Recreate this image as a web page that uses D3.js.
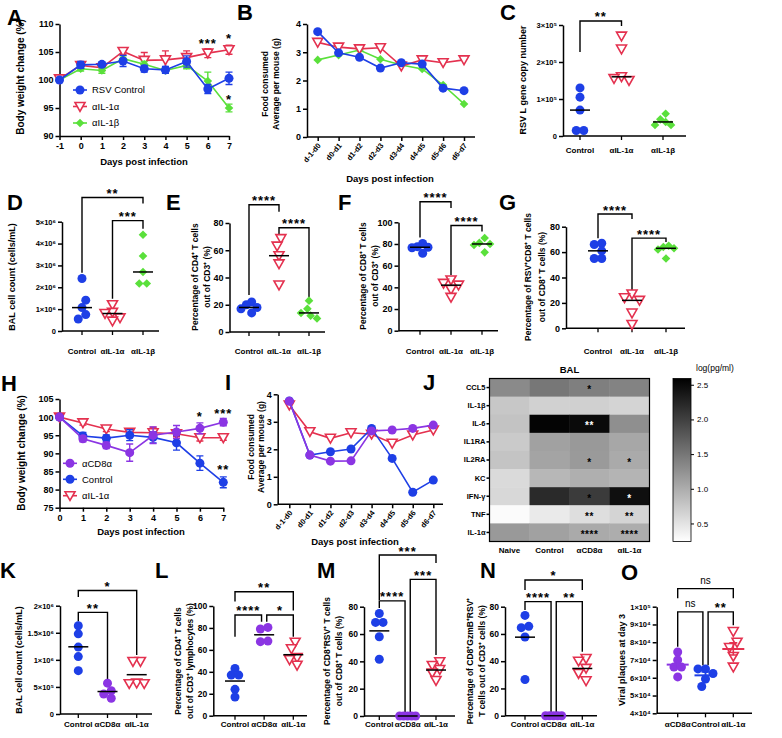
<!DOCTYPE html>
<html><head><meta charset="utf-8"><title>Figure</title>
<script src="https://cdn.jsdelivr.net/npm/d3@7/dist/d3.min.js"></script>
<style>html,body{margin:0;padding:0;background:#fff;}svg{display:block;}</style>
</head><body>
<script>
// ================= DATA =================
// Panel A – body weight (%)
const daysA = [-1,0,1,2,3,4,5,6,7];
const A_ctrl = [100,102.7,102.8,103.4,102.0,101.8,103.3,98.4,100.3];
const A_ctrlErr = [0.3,0.6,0.4,1.0,0.6,0.6,1.0,0.8,1.1];
const A_il1a = [100.2,102.6,102.2,105.1,103.5,103.6,104.0,104.8,105.4];
const A_il1aErr = [0.3,0.5,0.5,0.5,1.4,1.6,1.2,0.8,0.8];
const A_il1b = [100.0,102.0,101.7,103.8,102.8,101.7,102.6,99.8,95.0];
const A_il1bErr = [0.3,0.4,0.5,0.5,0.5,0.5,0.6,1.6,0.7];
const A_sig = [{day:6,v:107.1,t:'***'},{day:7,v:108,t:'*'},{day:7,v:97,t:'*'}];
const A_legend = ['RSV Control','αIL-1α','αIL-1β'];

// Panel B – food consumed
const periods = ['d-1-d0','d0-d1','d1-d2','d2-d3','d3-d4','d4-d5','d5-d6','d6-d7'];
const B_ctrl = [3.73,2.98,2.82,2.44,2.63,2.58,1.73,1.64];
const B_il1a = [3.35,3.18,3.12,3.16,2.51,2.73,2.63,2.73];
const B_il1b = [2.73,2.90,3.08,2.75,2.55,2.41,1.84,1.17];
const foodTicks = [0,1,2,3,4];

// Groups
const grpIL = ['Control','αIL-1α','αIL-1β'];
const grpCD8 = ['Control','αCD8α','αIL-1α'];
const grpO = ['αCD8α','Control','αIL-1α'];

// Panel C – RSV L gene copy number
const C_ctrl = [1.3e5,1.05e5,0.7e5,0.15e5,0.15e5];
const C_il1a = [2.7e5,2.35e5,1.6e5,1.55e5,1.5e5];
const C_il1b = [0.6e5,0.45e5,0.38e5,0.3e5,0.3e5];
const C_ticks = [0,1e5,2e5,3e5];
const C_sig = [{a:0,b:1,level:3.11e5,tipA:2.27e5,tipB:2.97e5,t:'**'}];

// Panel D – BAL cell count
const D_ctrl = [2.4e6,1.41e6,1.07e6,0.75e6,0.55e6];
const D_il1a = [1.2e6,0.85e6,0.8e6,0.6e6,0.45e6];
const D_il1b = [4.4e6,3.43e6,2.7e6,2.17e6,2.17e6];
const D_ticks = [0,1e6,2e6,3e6,4e6,5e6];
const D_sig = [{a:0,b:2,level:6.11e6,tipA:2.66e6,tipB:5.83e6,t:'**'},{a:1,b:2,level:5.05e6,tipA:1.47e6,tipB:4.68e6,t:'***'}];

// Panel E – CD4 %
const E_ctrl = [22,20,18,17,14];
const E_il1a = [68.5,63,56,50,34.5];
const E_il1b = [23,17,14,12,10];
const E_ticks = [0,20,40,60,80];
const E_sig = [{a:0,b:1,level:93.4,tipA:27.2,tipB:88.2,t:'****'},{a:1,b:2,level:76.5,tipA:69.9,tipB:25.7,t:'****'}];

// Panel F – CD8 %
const F_ctrl = [80.5,77.5,77,76.5,71.5];
const F_il1a = [46.8,43.7,42,38,30.7];
const F_il1b = [85.5,81,80,79,72.3];
const F_ticks = [0,20,40,60,80,100];
const F_sig = [{a:0,b:1,level:119,tipA:85.9,tipB:113.3,t:'****'},{a:1,b:2,level:97,tipA:51.4,tipB:91.4,t:'****'}];

// Panel G – RSV+CD8+ %
const G_ctrl = [67,66,61,55,55];
const G_il1a = [27,24,22,12,3];
const G_il1b = [65,64,63,62,55];
const G_ticks = [0,20,40,60,80];
const G_sig = [{a:0,b:1,level:90,tipA:71,tipB:86,t:'****'},{a:1,b:2,level:71,tipA:30,tipB:68,t:'****'}];

// Panel H – body weight
const daysH = [0,1,2,3,4,5,6,7];
const H_cd8 = [100,94.0,92.2,90.2,95.0,95.9,96.9,98.6];
const H_cd8Err = [0,0.8,0.9,2.4,2.3,1.8,1.5,1.0];
const H_ctrl = [100,94.8,94.2,95.0,94.4,92.9,87.3,82.0];
const H_ctrlErr = [0,1.0,0.9,1.5,1.5,2.0,2.0,1.5];
const H_il1a = [100,98.4,96.7,95.8,95.7,95.4,94.3,94.3];
const H_il1aErr = [0,0.6,0.7,1.0,1.5,0.8,0.9,0.7];
const H_sig = [{day:6,v:101.05,t:'*'},{day:7,v:101.7,t:'***'},{day:7,v:86.3,t:'**'}];
const H_legend = ['αCD8α','Control','αIL-1α'];

// Panel I – food consumed
const I_cd8 = [3.75,1.79,1.57,1.58,2.67,2.70,2.76,2.88];
const I_ctrl = [3.76,1.79,1.91,2.01,2.76,1.67,0.44,0.88];
const I_il1a = [3.61,2.64,2.40,2.60,2.55,2.22,2.52,2.70];

// Panel J – BAL cytokine heatmap, log(pg/ml)
const cytokines = ['CCL5','IL-1β','IL-6','IL1RA','IL2RA','KC','IFN-γ','TNF','IL-1α'];
const jGroups = ['Naive','Control','αCD8α','αIL-1α'];
const J_vals = [
  [1.32,1.49,1.42,1.38],
  [0.76,0.66,0.67,0.64],
  [0.79,2.55,2.50,1.27],
  [0.73,1.11,1.18,1.05],
  [0.78,1.08,1.17,1.02],
  [0.58,0.90,0.98,0.93],
  [0.60,2.20,2.05,2.45],
  [0.28,0.43,0.54,0.64],
  [1.18,1.11,1.02,1.00]
];
const J_sig = [
  ['','','*',''],['','','',''],['','','**',''],['','','',''],['','','*','*'],
  ['','','',''],['','','*','*'],['','','**','**'],['','','****','****']
];
const J_range = [0.24,2.59];
const J_ticks = [0.5,1.0,1.5,2.0,2.5];

// Panel K – BAL cell count
const K_ctrl = [1.63e6,1.48e6,1.235e6,1.06e6,0.8e6];
const K_cd8 = [0.57e6,0.43e6,0.37e6,0.29e6];
const K_il1a = [0.97e6,0.97e6,0.57e6,0.56e6,0.56e6];
const K_ticks = [0,5e5,1e6,1.5e6,2e6];
const K_sig = [{a:0,b:2,level:2.28e6,tipA:2.16e6,tipB:1.09e6,t:'*'},{a:0,b:1,level:1.876e6,tipA:1.71e6,tipB:0.63e6,t:'**'}];

// Panel L – CD4 %
const L_ctrl = [43,37,37,24,17];
const L_cd8 = [79,80.5,67.5,68];
const L_il1a = [67,61,53,51,46];
const L_ticks = [0,20,40,60,80,100];
const L_sig = [{a:0,b:2,level:113,tipA:104,tipB:96,t:'**'},{a:0,b:1,level:91.8,tipA:72,tipB:85.7,t:'****'},{a:1,b:2,level:91.8,tipA:85.7,tipB:72,t:'*'}];

// Panel M – CD8+RSV+ %
const M_ctrl = [75,68.5,68.5,58,41.5];
const M_cd8 = [0,0,0,0,0];
const M_il1a = [39.7,37,34,31.5,26];
const M_ticks = [0,20,40,60,80];
const M_sig = [{a:0,b:2,level:117.8,tipA:84.9,tipB:112,t:'***'},{a:1,b:2,level:100,tipA:2.2,tipB:44.6,t:'***'},{a:0,b:1,level:84.3,tipA:79,tipB:2.2,t:'****'}];

// Panel N – CD8+GzmB+RSV+ %
const N_ctrl = [73.6,65.6,64.6,57.8,26.6];
const N_cd8 = [0,0,0,0,0];
const N_il1a = [42,40,34.7,31,25.6];
const N_ticks = [0,20,40,60,80];
const N_sig = [{a:0,b:2,level:99.6,tipA:92.3,tipB:92.3,t:'*'},{a:0,b:1,level:83.7,tipA:77.6,tipB:2,t:'****'},{a:1,b:2,level:83.7,tipA:2,tipB:47,t:'**'}];

// Panel O – viral plaques
const O_cd8 = [74500,70000,66000,66000,60500];
const O_ctrl = [65000,65000,62400,59300,55100];
const O_il1a = [86000,80000,77000,72000,66000];
const O_ticks = [40000,50000,60000,70000,80000,90000,100000];
const O_sig = [{a:0,b:2,level:110200,tipA:104800,tipB:104800,t:'ns'},{a:0,b:1,level:97100,tipA:77400,tipB:67100,t:'ns'},{a:1,b:2,level:97100,tipA:67100,tipB:89600,t:'**'}];

// ================= DRAWING =================
const FONT = "'Liberation Sans', Arial, Helvetica, sans-serif";
const BLUE = '#1e3fe6', RED = '#e4314f', GREEN = '#5ae03b', PURPLE = '#8b35e3';

const svg = d3.select('body').append('svg').attr('width',782).attr('height',738)
  .attr('font-family',FONT);

function txt(x,y,t,o={}){
  return svg.append('text').attr('x',x).attr('y',y).attr('font-size',o.fs||9)
    .attr('font-weight',o.w||'bold').attr('text-anchor',o.a||'start')
    .attr('fill',o.c||'#000').attr('letter-spacing',o.ls||null).text(t);
}
function vlabel(lines, xs, cy, fs){
  lines.forEach((t,i)=> svg.append('text').attr('transform',`translate(${xs[i]},${cy}) rotate(-90)`)
    .attr('text-anchor','middle').attr('font-size',fs).attr('font-weight','bold').text(t));
}
function styleAxis(a, fs, w){
  a.attr('font-family',FONT);
  a.select('.domain').attr('stroke','#000').attr('stroke-width',1.5);
  a.selectAll('.tick line').attr('stroke','#000').attr('stroke-width',1.5);
  a.selectAll('.tick text').attr('fill','#000').attr('font-size',fs).attr('font-weight',w||'bold');
}
function marker(g, kind, x, y, color){
  if(kind==='circle') return g.append('circle').attr('cx',x).attr('cy',y).attr('r',4.5).attr('fill',color);
  if(kind==='tri') return g.append('path').attr('d',`M${x-5},${y-4}L${x+5},${y-4}L${x},${y+4.8}Z`)
    .attr('fill','#fff').attr('stroke',color).attr('stroke-width',1.6);
  return g.append('path').attr('d',`M${x},${y-4.3}L${x+4.3},${y}L${x},${y+4.3}L${x-4.3},${y}Z`).attr('fill',color);
}
function seriesDraw(g, xs, ys, errs, x, y, kind, color){
  const line = d3.line().x((d,i)=>x(xs[i])).y(d=>y(d));
  g.append('path').datum(ys).attr('d',line).attr('fill','none').attr('stroke',color).attr('stroke-width',1.6);
  if(errs) ys.forEach((v,i)=>{
    const e = errs[i]; if(!e) return; const xx = x(xs[i]);
    g.append('path').attr('d',`M${xx},${y(v-e)}V${y(v+e)}M${xx-3.5},${y(v-e)}H${xx+3.5}M${xx-3.5},${y(v+e)}H${xx+3.5}`)
      .attr('stroke',color).attr('stroke-width',1.4).attr('fill','none');
  });
  ys.forEach((v,i)=> marker(g, kind, x(xs[i]), y(v), color));
}
function legend(g, items, x0, ys){
  items.forEach((it,i)=>{
    g.append('line').attr('x1',x0-7).attr('x2',x0+7).attr('y1',ys[i]).attr('y2',ys[i]).attr('stroke',it.color).attr('stroke-width',1.6);
    marker(g, it.kind, x0, ys[i], it.color);
    txt(x0+12, ys[i]+3.4, it.label, {fs:9.5, w:'normal'});
  });
}
function swarm(ys, dc, maxSpread){
  const n = ys.length, order = d3.range(n).sort((a,b)=>ys[a]-ys[b]);
  const off = new Array(n).fill(0), placed = [];
  const cands = [0]; for(let k=1;k<14;k++){ cands.push(-k*dc*0.5, k*dc*0.5); }
  for(const i of order){
    for(const o of cands){
      if(placed.every(j => (o-off[j])**2 + (ys[i]-ys[j])**2 >= dc*dc)){ off[i]=o; break; }
    }
    placed.push(i);
  }
  const clusters = []; let cur = [order[0]];
  for(let k=1;k<n;k++){
    if(Math.abs(ys[order[k]]-ys[order[k-1]]) < dc) cur.push(order[k]);
    else { clusters.push(cur); cur=[order[k]]; }
  }
  clusters.push(cur);
  clusters.forEach(cl=>{
    const lo = d3.min(cl,i=>off[i]), hi = d3.max(cl,i=>off[i]);
    const mid = (lo+hi)/2, sc = (hi-lo) > maxSpread ? maxSpread/(hi-lo) : 1;
    cl.forEach(i=> off[i] = (off[i]-mid)*sc);
  });
  return off;
}
function brackets(g, sig, x, y, cats){
  sig.forEach(b=>{ b.sa=0; b.sb=0; });
  sig.forEach(b1=> sig.forEach(b2=>{
    if(b1===b2 || b1.b!==b2.a) return;
    const r1=[Math.min(b1.level,b1.tipB),Math.max(b1.level,b1.tipB)];
    const r2=[Math.min(b2.level,b2.tipA),Math.max(b2.level,b2.tipA)];
    if(r1[0] < r2[1] && r2[0] < r1[1]){ b1.sb=-2.6; b2.sa=2.6; }
  }));
  sig.forEach(b=>{
    const xa = x(cats[b.a])+b.sa, xb = x(cats[b.b])+b.sb, yl = y(b.level);
    g.append('path').attr('d',`M${xa},${y(b.tipA)}V${yl}H${xb}V${y(b.tipB)}`)
      .attr('fill','none').attr('stroke','#000').attr('stroke-width',1.4);
    if(b.t==='ns') txt((xa+xb)/2, yl-4.5, b.t, {fs:10, a:'middle', w:'normal'});
    else txt((xa+xb)/2, yl+0.5, b.t, {fs:13, a:'middle', ls:1});
  });
}
function scatter(c){
  const y = d3.scaleLinear().domain(c.dom).range(c.yr);
  const x = d3.scalePoint().domain(c.cats).range(c.xr);
  const g = svg.append('g');
  const ya = g.append('g').attr('transform',`translate(${c.ax},0)`)
    .call(d3.axisLeft(y).tickValues(c.ticks).tickFormat(c.fmt).tickSize(4).tickSizeOuter(0).tickPadding(2));
  styleAxis(ya, c.tfs||9);
  g.append('line').attr('x1',c.ax).attr('x2',c.xend).attr('y1',c.yr[0]).attr('y2',c.yr[0])
    .attr('stroke','#000').attr('stroke-width',1.5);
  c.cats.forEach(k=>{
    g.append('line').attr('x1',x(k)).attr('x2',x(k)).attr('y1',c.yr[0]).attr('y2',c.yr[0]+4)
      .attr('stroke','#000').attr('stroke-width',1.3);
    txt(x(k), c.labY, k, {fs:8, a:'middle'});
  });
  brackets(g, c.sig, x, y, c.cats);
  c.vals.forEach((vs,i)=>{
    const cx = x(c.cats[i]);
    const offs = swarm(vs.map(v=>y(v)), 7.5, 16);
    vs.forEach((v,j)=> marker(g, c.kinds[i], cx+offs[j], y(v), c.colors[i]));
    const m = c.stat(vs);
    if(c.sem){
      const se = d3.deviation(vs)/Math.sqrt(vs.length), col = c.colors[i];
      g.append('line').attr('x1',cx-11).attr('x2',cx+11).attr('y1',y(m)).attr('y2',y(m)).attr('stroke',col).attr('stroke-width',2);
      g.append('path').attr('d',`M${cx},${y(m-se)}V${y(m+se)}M${cx-4},${y(m-se)}H${cx+4}M${cx-4},${y(m+se)}H${cx+4}`)
        .attr('stroke',col).attr('stroke-width',1.6).attr('fill','none');
    } else {
      g.append('line').attr('x1',cx-10).attr('x2',cx+10).attr('y1',y(m)).attr('y2',y(m)).attr('stroke','#000').attr('stroke-width',1.5);
    }
  });
}
const sup = {'0':'⁰','1':'¹','2':'²','3':'³','4':'⁴','5':'⁵','6':'⁶','7':'⁷','8':'⁸','9':'⁹'};
function sci(mant, exp){ return `${mant}×10${String(exp).split('').map(ch=>sup[ch]).join('')}`; }
function foodPanel(cfg){
  const g = svg.append('g');
  const x = d3.scalePoint().domain(periods).range(cfg.xr);
  const y = d3.scaleLinear().domain([0,4]).range(cfg.yr);
  styleAxis(g.append('g').attr('transform',`translate(${cfg.ax},0)`)
    .call(d3.axisLeft(y).tickValues(foodTicks).tickFormat(d=>String(d)).tickSize(4).tickSizeOuter(0).tickPadding(2)), 9);
  const xa = g.append('g').attr('transform',`translate(0,${cfg.yr[0]})`).call(d3.axisBottom(x).tickSize(4).tickSizeOuter(0));
  xa.select('.domain').remove();
  styleAxis(xa, 7.5);
  xa.selectAll('.tick text').attr('text-anchor','end').attr('x',0).attr('y',0).attr('dy','0.35em')
    .attr('transform','translate(1,7) rotate(-50)');
  g.append('line').attr('x1',cfg.ax).attr('x2',cfg.xend).attr('y1',cfg.yr[0]).attr('y2',cfg.yr[0]).attr('stroke','#000').attr('stroke-width',1.5);
  cfg.series.forEach(s=> seriesDraw(g, periods, s.vals, null, x, y, s.kind, s.color));
}

// ---------- Panel letters ----------
[['A',7,25],['B',237,20],['C',500,20],['D',7,210],['E',166,210],['F',338,210],['G',499,210],
 ['H',1,391],['I',225,390],['J',423,390],['K',0,578],['L',155,578],['M',317,578],['N',480,578],['O',621,580]]
 .forEach(([t,x,y])=> txt(x,y,t,{fs:22}));

// ---------- Panel A ----------
{
  const g = svg.append('g');
  const x = d3.scaleLinear().domain([-1,7]).range([59.5,229]);
  const y = d3.scaleLinear().domain([90,110]).range([136,24]);
  styleAxis(g.append('g').attr('transform','translate(59.5,0)')
    .call(d3.axisLeft(y).tickValues([90,95,100,105,110]).tickFormat(d=>String(d)).tickSize(4).tickSizeOuter(0).tickPadding(2)), 9);
  styleAxis(g.append('g').attr('transform','translate(0,136)')
    .call(d3.axisBottom(x).tickValues(daysA).tickFormat(d=>String(d)).tickSize(4).tickSizeOuter(0).tickPadding(3)), 9);
  seriesDraw(g, daysA, A_il1a, A_il1aErr, x, y, 'tri', RED);
  seriesDraw(g, daysA, A_il1b, A_il1bErr, x, y, 'diamond', GREEN);
  seriesDraw(g, daysA, A_ctrl, A_ctrlErr, x, y, 'circle', BLUE);
  A_sig.forEach(s=> txt(x(s.day), y(s.v)+7.5, s.t, {fs:13, a:'middle', ls:1}));
  legend(g, [{label:A_legend[0],kind:'circle',color:BLUE},{label:A_legend[1],kind:'tri',color:RED},{label:A_legend[2],kind:'diamond',color:GREEN}], 80, [90,106.5,123]);
  vlabel(['Body weight change (%)'], [23.5], 77, 10);
  txt(144, 165, 'Days post infection', {fs:9.5, a:'middle'});
}

// ---------- Panel B ----------
foodPanel({ax:307, xend:475, xr:[317.7,464], yr:[137,24], series:[
  {vals:B_il1b, kind:'diamond', color:GREEN},{vals:B_il1a, kind:'tri', color:RED},{vals:B_ctrl, kind:'circle', color:BLUE}]});
vlabel(['Food consumed','Average per mouse (g)'], [268,278.5], 84, 8.5);
txt(390, 182, 'Days post infection', {fs:9.5, a:'middle'});

// ---------- Scatter panels C-G ----------
const fmtPlain = d=>String(d);
scatter({ax:563, xend:686, xr:[580,663], yr:[136,25], dom:[0,3e5], ticks:C_ticks,
  fmt:d=>d===0?'0':sci(d/1e5,5), tfs:7.5, cats:grpIL, vals:[C_ctrl,C_il1a,C_il1b],
  kinds:['circle','tri','diamond'], colors:[BLUE,RED,GREEN], stat:d3.median, sig:C_sig, labY:153});
vlabel(['RSV L gene copy number'], [526], 80, 9);

scatter({ax:62, xend:159, xr:[82,143], yr:[331,221.7], dom:[0,5e6], ticks:D_ticks,
  fmt:d=>d===0?'0':sci(d/1e6,6), tfs:7.5, cats:grpIL, vals:[D_ctrl,D_il1a,D_il1b],
  kinds:['circle','tri','diamond'], colors:[BLUE,RED,GREEN], stat:d3.median, sig:D_sig, labY:354});
vlabel(['BAL cell count (cells/mL)'], [15], 277, 9);

scatter({ax:229.5, xend:325, xr:[249,309], yr:[332,223], dom:[0,80], ticks:E_ticks, fmt:fmtPlain, tfs:9,
  cats:grpIL, vals:[E_ctrl,E_il1a,E_il1b], kinds:['circle','tri','diamond'], colors:[BLUE,RED,GREEN],
  stat:d3.median, sig:E_sig, labY:354});
vlabel(['Percentage of CD4⁺ T cells','out of CD3⁺ (%)'], [198,209.5], 277, 8.5);

scatter({ax:398.5, xend:498, xr:[420,482], yr:[330.7,222.3], dom:[0,100], ticks:F_ticks, fmt:fmtPlain, tfs:9,
  cats:grpIL, vals:[F_ctrl,F_il1a,F_il1b], kinds:['circle','tri','diamond'], colors:[BLUE,RED,GREEN],
  stat:d3.median, sig:F_sig, labY:354});
vlabel(['Percentage of CD8⁺ T cells','out of CD3⁺ (%)'], [366,377.5], 276, 8.5);

scatter({ax:566, xend:685, xr:[598,666], yr:[328.3,226.7], dom:[0,80], ticks:G_ticks, fmt:fmtPlain, tfs:9,
  cats:grpIL, vals:[G_ctrl,G_il1a,G_il1b], kinds:['circle','tri','diamond'], colors:[BLUE,RED,GREEN],
  stat:d3.median, sig:G_sig, labY:354});
vlabel(['Percentage of RSV⁺CD8⁺ T cells','out of CD8⁺ T cells (%)'], [531,545], 277, 8.5);

// ---------- Panel H ----------
{
  const g = svg.append('g');
  const x = d3.scaleLinear().domain([0,7]).range([59.5,223.3]);
  const y = d3.scaleLinear().domain([75,105]).range([507.7,399]);
  styleAxis(g.append('g').attr('transform','translate(59.5,0)')
    .call(d3.axisLeft(y).tickValues([75,80,85,90,95,100,105]).tickFormat(d=>String(d)).tickSize(4).tickSizeOuter(0).tickPadding(2)), 9);
  styleAxis(g.append('g').attr('transform','translate(0,507.7)')
    .call(d3.axisBottom(x).tickValues(daysH).tickFormat(d=>String(d)).tickSize(4).tickSizeOuter(0).tickPadding(3)), 9);
  seriesDraw(g, daysH, H_il1a, H_il1aErr, x, y, 'tri', RED);
  seriesDraw(g, daysH, H_ctrl, H_ctrlErr, x, y, 'circle', BLUE);
  seriesDraw(g, daysH, H_cd8, H_cd8Err, x, y, 'circle', PURPLE);
  H_sig.forEach(s=> txt(x(s.day), y(s.v)+7.5, s.t, {fs:13, a:'middle', ls:1}));
  legend(g, [{label:H_legend[0],kind:'circle',color:PURPLE},{label:H_legend[1],kind:'circle',color:BLUE},{label:H_legend[2],kind:'tri',color:RED}], 70, [463.3,479.3,495.7]);
  vlabel(['Body weight change (%)'], [25], 453, 10);
  txt(141, 535, 'Days post infection', {fs:9.5, a:'middle'});
}

// ---------- Panel I ----------
foodPanel({ax:277.7, xend:443, xr:[289.3,433.3], yr:[504.3,394.3], series:[
  {vals:I_il1a, kind:'tri', color:RED},{vals:I_ctrl, kind:'circle', color:BLUE},{vals:I_cd8, kind:'circle', color:PURPLE}]});
vlabel(['Food consumed','Average per mouse (g)'], [253.5,264], 447, 8.5);
txt(355, 545, 'Days post infection', {fs:9.5, a:'middle'});

// ---------- Panel J (heatmap) ----------
{
  const g = svg.append('g');
  const hx = d3.scaleBand().domain(jGroups).range([489.5,649.5]);
  const hy = d3.scaleBand().domain(cytokines).range([378.5,541.5]);
  const gray = d3.scaleLinear().domain(J_range).range(['#ffffff','#000000']).clamp(true);
  cytokines.forEach((r,i)=> jGroups.forEach((c,j)=>{
    g.append('rect').attr('x',hx(c)).attr('y',hy(r)).attr('width',hx.bandwidth()+0.4).attr('height',hy.bandwidth()+0.4)
      .attr('fill',gray(J_vals[i][j]));
  }));
  g.append('rect').attr('x',489.5).attr('y',378.5).attr('width',160).attr('height',163).attr('fill','none').attr('stroke','#000').attr('stroke-width',1.2);
  cytokines.forEach((r,i)=> jGroups.forEach((c,j)=>{
    if(J_sig[i][j]) txt(hx(c)+hx.bandwidth()/2, hy(r)+hy.bandwidth()/2+5.5, J_sig[i][j],
      {fs:10, a:'middle', c: J_vals[i][j] > 2.3 ? '#fff' : '#000', ls:0.5});
  }));
  const ra = g.append('g').attr('transform','translate(489.5,0)').call(d3.axisLeft(hy).tickSize(3).tickPadding(1).tickSizeOuter(0));
  ra.select('.domain').remove(); styleAxis(ra, 7.5);
  jGroups.forEach(c=> txt(hx(c)+hx.bandwidth()/2, 553, c, {fs:8, a:'middle'}));
  txt(569.5, 373, 'BAL', {fs:9.5, a:'middle'});
  const cb = d3.scaleLinear().domain(J_range).range([541.5,378.5]);
  const grad = svg.append('defs').append('linearGradient').attr('id','cbg').attr('x1',0).attr('x2',0).attr('y1',1).attr('y2',0);
  grad.append('stop').attr('offset','0%').attr('stop-color','#ffffff');
  grad.append('stop').attr('offset','100%').attr('stop-color','#000000');
  g.append('rect').attr('x',673).attr('y',378.5).attr('width',18).attr('height',163).attr('fill','url(#cbg)').attr('stroke','#000').attr('stroke-width',0.8);
  const ca = g.append('g').attr('transform','translate(691,0)').call(d3.axisRight(cb).tickValues(J_ticks).tickFormat(d3.format('.1f')).tickSize(3).tickSizeOuter(0));
  ca.select('.domain').remove(); styleAxis(ca, 8, 'normal'); ca.selectAll('.tick line').attr('stroke-width',1);
  txt(696, 371, 'log(pg/ml)', {fs:8.5, w:'normal'});
}

// ---------- Scatter panels K-O ----------
scatter({ax:60, xend:152, xr:[78.3,136.7], yr:[714,605.7], dom:[0,2e6], ticks:K_ticks,
  fmt:d=>d===0?'0':(d>=1e6?sci(d/1e6,6):sci(d/1e5,5)), tfs:7.5, cats:grpCD8, vals:[K_ctrl,K_cd8,K_il1a],
  kinds:['circle','circle','tri'], colors:[BLUE,PURPLE,RED], stat:d3.mean, sig:K_sig, labY:727});
vlabel(['BAL cell count (cells/mL)'], [21.5], 660, 9);

scatter({ax:213.3, xend:307, xr:[235,293.3], yr:[715.7,606], dom:[0,100], ticks:L_ticks, fmt:fmtPlain, tfs:8.5,
  cats:grpCD8, vals:[L_ctrl,L_cd8,L_il1a], kinds:['circle','circle','tri'], colors:[BLUE,PURPLE,RED],
  stat:d3.mean, sig:L_sig, labY:727});
vlabel(['Percentage of CD4⁺ T cells','out of CD3⁺ lymphocytes (%)'], [181,193], 661, 8.5);

scatter({ax:364, xend:455, xr:[379.3,436], yr:[716,606.7], dom:[0,80], ticks:M_ticks, fmt:fmtPlain, tfs:8.5,
  cats:grpCD8, vals:[M_ctrl,M_cd8,M_il1a], kinds:['circle','circle','tri'], colors:[BLUE,PURPLE,RED],
  stat:d3.mean, sig:M_sig, labY:727});
vlabel(['Percentage of CD8⁺RSV⁺ T cells','out of CD8⁺ T cells (%)'], [330,341.5], 661, 8.5);

scatter({ax:505, xend:597, xr:[525,582.3], yr:[715.7,606.7], dom:[0,80], ticks:N_ticks, fmt:fmtPlain, tfs:8.5,
  cats:grpCD8, vals:[N_ctrl,N_cd8,N_il1a], kinds:['circle','circle','tri'], colors:[BLUE,PURPLE,RED],
  stat:d3.mean, sig:N_sig, labY:727});
vlabel(['Percentage of CD8⁺GzmB⁺RSV⁺','T cells out of CD3⁺ cells (%)'], [473,485], 661, 8.5);

scatter({ax:656.7, xend:752, xr:[677.7,733.3], yr:[713.3,606.7], dom:[40000,100000], ticks:O_ticks,
  fmt:d=>d===100000?sci(1,5):sci(d/1e4,4), tfs:7.5, cats:grpO, vals:[O_cd8,O_ctrl,O_il1a],
  kinds:['circle','circle','tri'], colors:[PURPLE,BLUE,RED], stat:d3.mean, sem:true, sig:O_sig, labY:727});
vlabel(['Viral plaques at day 3'], [625], 660, 9);
</script>
</body></html>
